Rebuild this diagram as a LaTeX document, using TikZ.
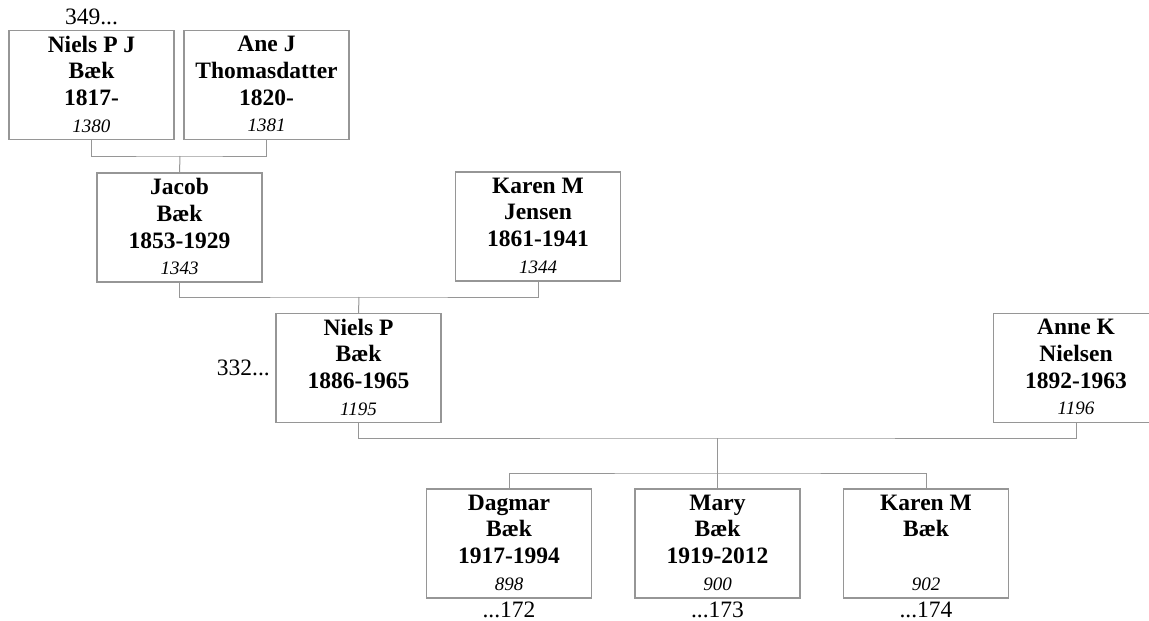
\documentclass[tikz,border=0pt]{standalone}
\usepackage{fontspec}
\setmainfont{Liberation Serif}
\usetikzlibrary{positioning}

\begin{document}
\begin{tikzpicture}[x=1pt,y=-1pt]
\tikzset{
  personbox/.style={rectangle,draw={rgb,255:red,150;green,150;blue,150},line width=1.3pt,minimum width=165pt,minimum height=109pt,inner sep=0pt,outer sep=0pt,align=center,font=\fontsize{23.5}{26.7}\selectfont\bfseries,
    execute at begin node={\rule{0pt}{22pt}},execute at end node={\rule[-2pt]{0pt}{2pt}}},
  link/.style={draw={rgb,255:red,150;green,150;blue,150},line width=1pt},
  refnote/.style={inner sep=0pt,font=\fontsize{23.5}{26}\selectfont}
}
\useasboundingbox (0,0) rectangle (1149,621);
\node[personbox] (n_NielsPJ) at (91.5,85) {Niels P J\\Bæk\\1817-\\{\fontsize{19}{25}\selectfont\mdseries\itshape 1380}};
\node[personbox] (n_AneJ) at (266.5,85) {Ane J\\Thomasdatter\\1820-\\{\fontsize{19}{25}\selectfont\mdseries\itshape 1381}};
\node[personbox] (n_Jacob) at (179.5,227.5) {Jacob\\Bæk\\1853-1929\\{\fontsize{19}{25}\selectfont\mdseries\itshape 1343}};
\node[personbox] (n_KarenMJ) at (538,226.5) {Karen M\\Jensen\\1861-1941\\{\fontsize{19}{25}\selectfont\mdseries\itshape 1344}};
\node[personbox] (n_NielsP) at (358.5,368) {Niels P\\Bæk\\1886-1965\\{\fontsize{19}{25}\selectfont\mdseries\itshape 1195}};
\node[personbox] (n_AnneK) at (1076,368) {Anne K\\Nielsen\\1892-1963\\{\fontsize{19}{25}\selectfont\mdseries\itshape 1196}};
\node[personbox] (n_Dagmar) at (509,543.5) {Dagmar\\Bæk\\1917-1994\\{\fontsize{19}{25}\selectfont\mdseries\itshape 898}};
\node[personbox] (n_Mary) at (717.5,543.5) {Mary\\Bæk\\1919-2012\\{\fontsize{19}{25}\selectfont\mdseries\itshape 900}};
\node[personbox] (n_KarenMB) at (926,543.5) {Karen M\\Bæk\\\strut\\{\fontsize{19}{25}\selectfont\mdseries\itshape 902}};
\node[refnote,above=5pt of n_NielsPJ] (r_349) {349...};
\node[refnote,left=6pt of n_NielsP] (r_332) {332...};
\node[refnote,below=4pt of n_Dagmar] (r_172) {...172};
\node[refnote,below=4pt of n_Mary] (r_173) {...173};
\node[refnote,below=4pt of n_KarenMB] (r_174) {...174};
\coordinate (j_top) at (180,156);
\coordinate (j_mid) at (359,297);
\coordinate (j_low) at (717.5,438);
\coordinate (j_kids) at (717.5,473);
\draw[link] (n_NielsPJ.south) |- (j_top) -| (n_AneJ.south);
\draw[link] (j_top) -- (n_Jacob.north);
\draw[link] (n_Jacob.south) |- (j_mid) -| (n_KarenMJ.south);
\draw[link] (j_mid) -- (n_NielsP.north);
\draw[link] (n_NielsP.south) |- (j_low) -| (n_AnneK.south);
\draw[link] (j_low) -- (n_Mary.north);
\draw[link] (n_Dagmar.north) |- (j_kids) -| (n_KarenMB.north);
\end{tikzpicture}
\end{document}
